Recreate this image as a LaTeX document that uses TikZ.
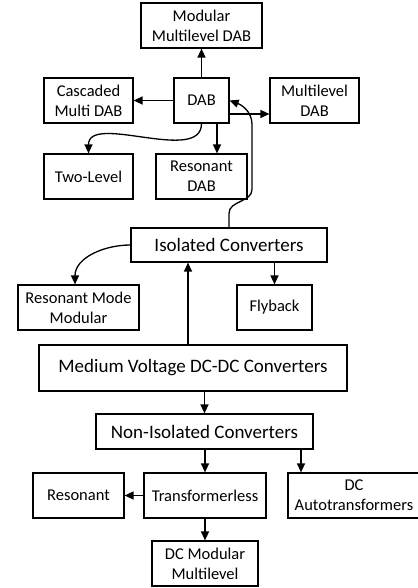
\documentclass[tikz,border=0pt]{standalone}
\usepackage{fontspec}
\setmainfont{Carlito}
\usetikzlibrary{arrows.meta}

\tikzset{
  blk/.style={draw, line width=1.2pt, align=center, inner sep=2pt,
    minimum height=45pt, font=\fontsize{16.5}{20}\selectfont},
  bigblk/.style={blk, font=\fontsize{19}{22}\selectfont},
  arr/.style={line width=1.3pt, -{Triangle[length=9pt,width=8pt]}}
}

\begin{document}
\begin{tikzpicture}[x=1pt,y=-1pt]
		\useasboundingbox (0,0) rectangle (417,588);
		%%%%% DAB family %%%%%
		\node[blk, minimum width=121pt] (mmdab) at (201.5, 25.5) {Modular\\Multilevel DAB};
		\node[blk, minimum width=89pt] (cmdab) at (88.5, 100.5) {Cascaded\\Multi DAB};
		\node[blk, minimum width=55pt] (dab) at (201.5, 100.5) {DAB};
		\node[blk, minimum width=89pt] (mldab) at (314.5, 100.5) {Multilevel\\DAB};
		\node[blk, minimum width=89pt] (twolvl) at (88.5, 176.5) {Two-Level};
		\node[blk, minimum width=91pt] (resdab) at (201.5, 176.5) {Resonant\\DAB};
		
		%%%%% isolated %%%%%
		\node[bigblk, minimum width=196pt, minimum height=34pt] (iso) at (229, 245) {Isolated Converters};
		\node[blk, minimum width=121pt] (rmm) at (78.5, 307.5) {Resonant Mode\\Modular};
		\node[blk, minimum width=75pt] (fly) at (274.5, 307.5) {Flyback};
		
		%%%%% root %%%%%
		\node[bigblk, minimum width=308pt, minimum height=46pt] (mv) at (193, 368) {Medium Voltage DC-DC Converters};
		
		%%%%% non-isolated %%%%%
		\node[bigblk, minimum width=217pt, minimum height=35pt] (noniso) at (204.5, 431.5) {Non-Isolated Converters};
		\node[blk, minimum width=91pt] (res) at (78.5, 495.5) {Resonant};
		\node[blk, minimum width=122pt] (tfl) at (205, 495.5) {Transformerless};
		\node[blk, minimum width=132pt] (dcat) at (354, 495.5) {DC\\Autotransformers};
		\node[blk, minimum width=106pt] (dcmm) at (205, 563.5) {DC Modular\\Multilevel};
		
		%%%%% arrows %%%%%
		\draw[arr] (dab) -- (mmdab);
		\draw[arr] (dab) -- (cmdab);
		\draw[arr] ([yshift=-13.5pt]dab.east) -- ([yshift=-13.5pt]dab.east -| mldab.west);
		\draw[arr] ([xshift=15.5pt]dab.south) -- ([xshift=15.5pt]resdab.north);
		\draw[arr] (dab.south) to[out=-90, in=90, looseness=0.9] (twolvl.north);
		\draw[arr] (iso.north) -- ++(0,-14) to[out=90, in=-90] ++(23,-24) -- ++(0,-65)
			to[out=90, in=-20] (dab.east);
		\draw[arr] (iso.west) to[out=180, in=90] ([xshift=-3.5pt]rmm.north);
		\draw[arr] ([xshift=-5pt]mv.north) -- ([xshift=-5pt]mv.north |- iso.south);
		\draw[arr] (fly.north |- iso.south) -- (fly.north);
		\draw[arr] (noniso.north |- mv.south) -- (noniso.north);
		\draw[arr] (tfl.north |- noniso.south) -- (tfl.north);
		\draw[arr] ([xshift=-53pt]dcat.north |- noniso.south) -- ([xshift=-53pt]dcat.north);
		\draw[arr] (tfl) -- (res);
		\draw[arr] (tfl) -- (dcmm);
\end{tikzpicture}
\end{document}
